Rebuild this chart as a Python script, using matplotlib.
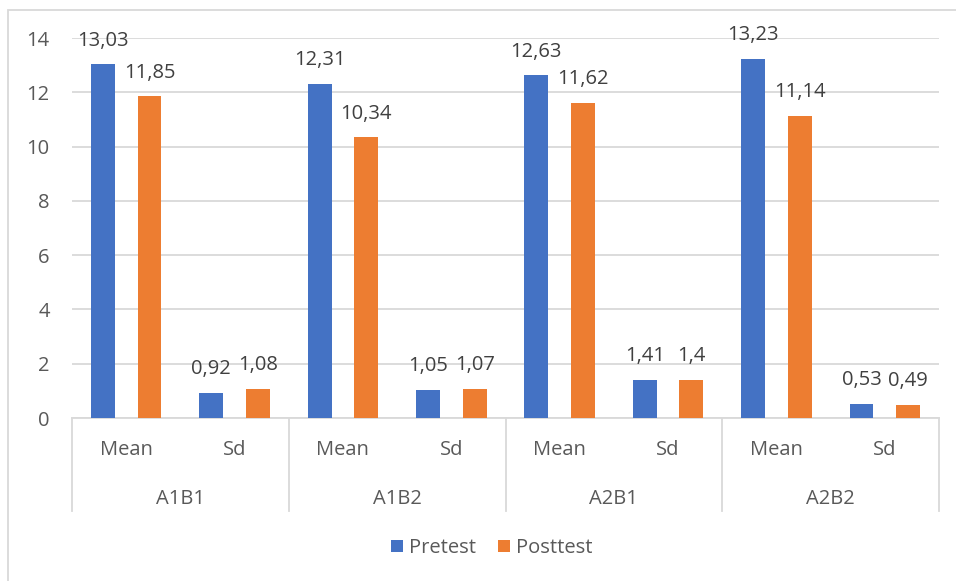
import numpy as np
import matplotlib.pyplot as plt
import matplotlib.transforms as mtransforms
from matplotlib.patches import Rectangle

groups = ['A1B1', 'A1B2', 'A2B1', 'A2B2']
stats = ['Mean', 'Sd']
pretest = [13.03, 0.92, 12.31, 1.05, 12.63, 1.41, 13.23, 0.53]
posttest = [11.85, 1.08, 10.34, 1.07, 11.62, 1.40, 11.14, 0.49]
yticks = [0, 2, 4, 6, 8, 10, 12, 14]

blue = '#4472C4'
orange = '#ED7D31'
grey_txt = '#595959'
grid_col = '#D9D9D9'

plt.rcParams['font.family'] = ['Open Sans', 'DejaVu Sans']

W, H = 956, 581
fig = plt.figure(figsize=(W / 100, H / 100), dpi=100)
fig.patches.append(Rectangle((8 / W, -0.1), 1.2, 1.1 - 10 / H, transform=fig.transFigure,
                             fill=False, edgecolor=grid_col, linewidth=1.3))

ax = fig.add_axes([72 / W, 1 - 418 / H, (939 - 72) / W, (418 - 38) / H])
x = np.arange(len(pretest))
w = 0.22
off = 0.215
b1 = ax.bar(x - off, pretest, w, color=blue, label='Pretest', zorder=3)
b2 = ax.bar(x + off, posttest, w, color=orange, label='Posttest', zorder=3)


def fmt(v):
    return f'{v:g}'.replace('.', ',')


for bars, vals in ((b1, pretest), (b2, posttest)):
    for r, v in zip(bars, vals):
        ax.text(r.get_x() + r.get_width() / 2, v + 0.5, fmt(v), ha='center', va='bottom',
                fontsize=14.5, color='#404040', clip_on=False)

ax.set_xlim(-0.5, len(x) - 0.5)
ax.set_ylim(0, 14)
ax.set_yticks(yticks)
ax.set_yticklabels([str(t) for t in yticks])
ax.tick_params(axis='y', length=0, labelsize=14.5, labelcolor=grey_txt, pad=16)
ax.yaxis.grid(True, color=grid_col, linewidth=1.3, zorder=0)
for s in ['top', 'right', 'left']:
    ax.spines[s].set_visible(False)
ax.spines['bottom'].set_color(grid_col)
ax.spines['bottom'].set_linewidth(1.3)
ax.set_xticks([])

# two-level category axis
trans = mtransforms.blended_transform_factory(ax.transData, ax.transAxes)
px = 1 / (418 - 38)
for i in range(len(x)):
    ax.text(i, -32 * px, stats[i % 2], transform=trans, ha='center', va='center',
            fontsize=14.5, color=grey_txt)
for g, name in enumerate(groups):
    ax.text(2 * g + 0.5, -81 * px, name, transform=trans, ha='center', va='center',
            fontsize=14.5, color=grey_txt)
for sx in np.arange(-0.5, len(x), 2):
    ax.plot([sx, sx], [0, -93 * px], transform=trans, color=grid_col, linewidth=1.3,
            clip_on=False)

leg = fig.legend(handles=[b1, b2], loc='center', bbox_to_anchor=(492 / W, 1 - 548 / H),
                 ncol=2, frameon=False, fontsize=14.5, handlelength=0.6, handleheight=0.6,
                 handletextpad=0.3, columnspacing=1.1)
for t in leg.get_texts():
    t.set_color(grey_txt)

fig.savefig('out.png', dpi=100)
